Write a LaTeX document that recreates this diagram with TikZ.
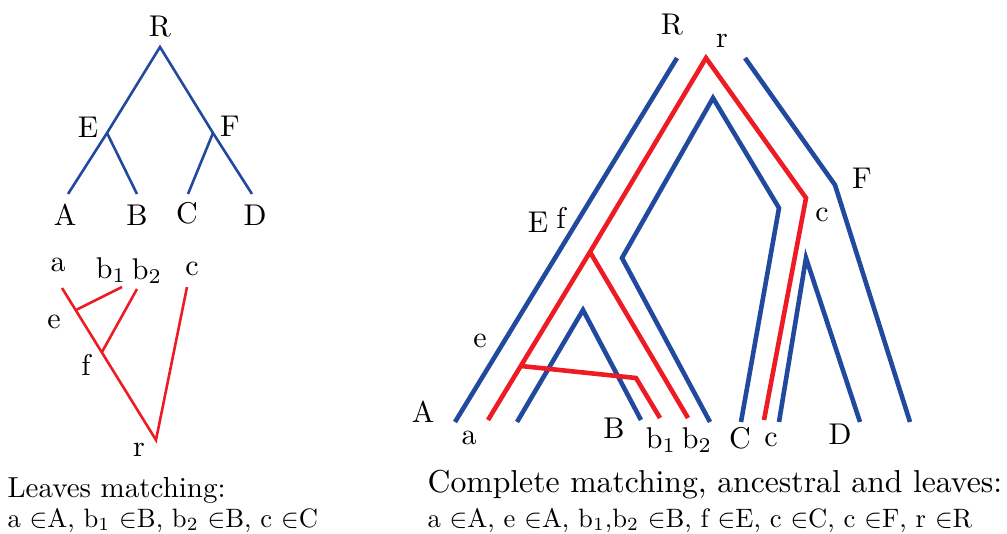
\documentclass[tikz,border=0pt]{standalone}
\definecolor{treeblue}{RGB}{33,74,158}
\definecolor{treered}{RGB}{237,28,36}
\tikzset{
  host/.style={treeblue, line width=2.6pt},
  guest/.style={treered, line width=2.6pt},
  hostfat/.style={treeblue, line width=4.6pt},
  guestfat/.style={treered, line width=4.6pt},
  lbl/.style={scale=3, inner sep=0pt},
  caption/.style={scale=2.9, inner sep=0pt, anchor=base west},
  bigcaption/.style={scale=3.17, inner sep=0pt, anchor=base west},
  subcaption/.style={scale=2.66, inner sep=0pt, anchor=base west}
}
\begin{document}
\begin{tikzpicture}[x=1pt,y=-1pt]
  \useasboundingbox (0,0) rectangle (1007,534);

  % Host tree (left)
  \coordinate (R) at (160,47);
  \coordinate (E) at (107,133);
  \coordinate (F) at (213,133);
  \coordinate (A) at (68,194);
  \coordinate (B) at (137,194);
  \coordinate (C) at (188,194);
  \coordinate (D) at (252,194);

  \draw[host] (A) -- (E) -- (R) -- (F) -- (D);
  \draw[host] (E) -- (B);
  \draw[host] (F) -- (C);

  \node[lbl] (lR) at (160,27) {R};
  \node[lbl] (lE) at (88,127) {E};
  \node[lbl] (lF) at (230,126) {F};
  \node[lbl] (lA) at (65,215) {A};
  \node[lbl] (lB) at (137,215) {B};
  \node[lbl] (lC) at (187,213) {C};
  \node[lbl] (lD) at (255,215) {D};

  % Guest tree (left)
  \coordinate (a) at (62,288);
  \coordinate (e) at (76,310);
  \coordinate (f) at (102,352);
  \coordinate (r) at (156,440);
  \coordinate (b1) at (122,287);
  \coordinate (b2) at (137,289);
  \coordinate (c) at (187,287);

  \draw[guest] (a) -- (r) -- (c);
  \draw[guest] (e) -- (b1);
  \draw[guest] (f) -- (b2);

  \node[lbl] (la) at (58,265) {a};
  \node[lbl] (lb1) at (111,270) {b$_1$};
  \node[lbl] (lb2) at (147,271) {b$_2$};
  \node[lbl] (lc) at (192,269) {c};
  \node[lbl] (le) at (54,322) {e};
  \node[lbl] (lf) at (86,365) {f};
  \node[lbl] (lr) at (139,450) {r};

  \node[caption] (capL) at (7,497) {Leaves matching:};
  \node[subcaption] (subL) at (7,527) {a $\in$A, b$_1$ $\in$B, b$_2$ $\in$B, c $\in$C};

  % Host tree drawn as a tube (right)
  \coordinate (RL) at (677,58);
  \coordinate (AL) at (455,422);
  \coordinate (RR) at (745,58);
  \coordinate (FR) at (835,185);
  \coordinate (DR) at (910,422);
  \coordinate (Bb) at (710,422);
  \coordinate (Eb) at (622,258);
  \coordinate (Rt) at (713,98);
  \coordinate (Fb) at (779,208);
  \coordinate (Cl) at (741,422);
  \coordinate (Ar) at (517,422);
  \coordinate (Et) at (583,310);
  \coordinate (Bl) at (641,420);
  \coordinate (Cr) at (779,422);
  \coordinate (Ft) at (806,258);
  \coordinate (Dl) at (860,422);

  \draw[hostfat] (AL) -- (RL);
  \draw[hostfat] (RR) -- (FR) -- (DR);
  \draw[hostfat] (Bb) -- (Eb) -- (Rt) -- (Fb) -- (Cl);
  \draw[hostfat] (Ar) -- (Et) -- (Bl);
  \draw[hostfat] (Cr) -- (Ft) -- (Dl);

  % Guest tree inside (right)
  \coordinate (ga) at (488,420);
  \coordinate (gf) at (590,252);
  \coordinate (gr) at (706,58);
  \coordinate (gc) at (806,198);
  \coordinate (gcl) at (764,420);
  \coordinate (gb2) at (688,418);
  \coordinate (ge) at (521,366);
  \coordinate (gk) at (636,378);
  \coordinate (gb1) at (660,418);

  \draw[guestfat] (ga) -- (gf) -- (gr) -- (gc) -- (gcl);
  \draw[guestfat] (gf) -- (gb2);
  \draw[guestfat] (ge) -- (gk) -- (gb1);

  \node[lbl] (rR) at (672,25) {R};
  \node[lbl] (rr) at (722,41) {r};
  \node[lbl] (rE) at (538,222) {E};
  \node[lbl] (rf) at (561,218) {f};
  \node[lbl] (rF) at (862,178) {F};
  \node[lbl] (rc) at (822,215) {c};
  \node[lbl] (re) at (480,341) {e};
  \node[lbl] (rA) at (423,412) {A};
  \node[lbl] (ra) at (469,438) {a};
  \node[lbl] (rB) at (614,428) {B};
  \node[lbl] (rb1) at (661,440) {b$_1$};
  \node[lbl] (rb2) at (697,440) {b$_2$};
  \node[lbl] (rC) at (740,438) {C};
  \node[lbl] (rcc) at (771,440) {c};
  \node[lbl] (rD) at (840,434) {D};

  \node[bigcaption] (capR) at (427,493) {Complete matching, ancestral and leaves:};
  \node[subcaption] (subR) at (427,527) {a $\in$A, e $\in$A, b$_1$,b$_2$ $\in$B, f $\in$E, c $\in$C, c $\in$F, r $\in$R};
\end{tikzpicture}
\end{document}
